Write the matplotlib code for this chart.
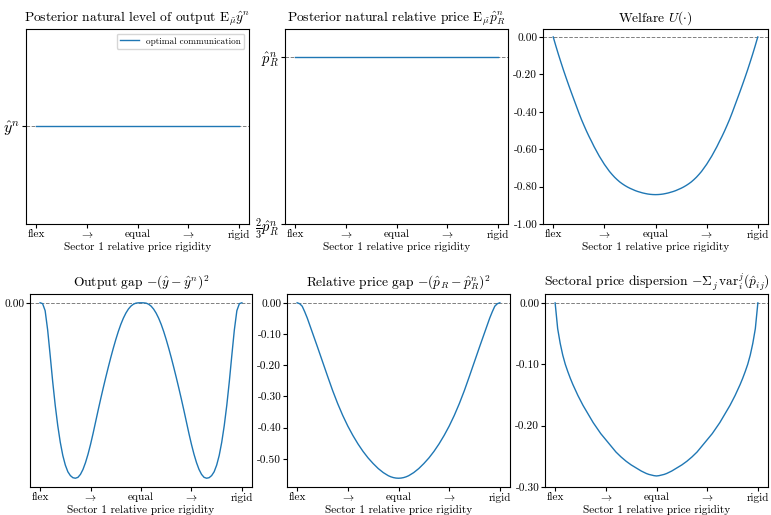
import matplotlib
matplotlib.use('Agg')
import matplotlib.pyplot as plt
import numpy as np

plt.rcParams.update({
    'font.family': 'serif',
    'font.serif': ['cmr10', 'DejaVu Serif'],
    'mathtext.fontset': 'cm',
    'axes.unicode_minus': False,
    'axes.formatter.use_mathtext': True,
})

# ---- data ----
x_grid = np.linspace(0.0, 1.0, 81)          # sector-1 relative rigidity, flex -> rigid
x_flat = [0.0, 0.25, 0.5, 0.75, 1.0]
x_tick_pos = [0.0, 0.25, 0.5, 0.75, 1.0]
x_tick_labels = ['flex', r'$\rightarrow$', 'equal', r'$\rightarrow$', 'rigid']

yn_level = 1.0
post_output = [1.0, 1.0, 1.0, 1.0, 1.0]
pRn_level = 1.0
post_relprice = [1.0, 1.0, 1.0, 1.0, 1.0]

welfare = [0.0, -0.047, -0.092, -0.135, -0.177, -0.217, -0.256, -0.294, -0.331, -0.368,
           -0.405, -0.44, -0.472, -0.503, -0.532, -0.559, -0.587, -0.612, -0.637, -0.659,
           -0.681, -0.700, -0.719, -0.735, -0.750, -0.763, -0.775, -0.785, -0.794, -0.802,
           -0.809, -0.815, -0.821, -0.826, -0.830, -0.834, -0.837, -0.8397, -0.8415, -0.8426,
           -0.843,
           -0.8426, -0.8415, -0.8397, -0.837, -0.834, -0.830, -0.826, -0.821, -0.815, -0.809,
           -0.802, -0.794, -0.785, -0.775, -0.763, -0.750, -0.735, -0.719, -0.700, -0.681,
           -0.659, -0.637, -0.612, -0.587, -0.559, -0.532, -0.503, -0.472, -0.44, -0.405,
           -0.368, -0.331, -0.294, -0.256, -0.217, -0.177, -0.135, -0.092, -0.047, 0.0]

output_gap = [0.0, -0.005, -0.045, -0.155, -0.30, -0.45, -0.585, -0.70, -0.795, -0.87,
              -0.925, -0.963, -0.985, -0.997, -1.0, -0.995, -0.978, -0.95, -0.911, -0.863,
              -0.807, -0.745, -0.679, -0.613, -0.549, -0.487, -0.427, -0.369, -0.313, -0.26,
              -0.21, -0.164, -0.123, -0.088, -0.059, -0.036, -0.019, -0.008, -0.002, -0.0003,
              0.0,
              -0.0003, -0.002, -0.008, -0.019, -0.036, -0.059, -0.088, -0.123, -0.164, -0.21,
              -0.26, -0.313, -0.369, -0.427, -0.487, -0.549, -0.613, -0.679, -0.745, -0.807,
              -0.863, -0.911, -0.95, -0.978, -0.995, -1.0, -0.997, -0.985, -0.963, -0.925,
              -0.87, -0.795, -0.70, -0.585, -0.45, -0.30, -0.155, -0.045, -0.005, 0.0]

relprice_gap = [0.0, -0.003, -0.011, -0.029, -0.049, -0.072, -0.095, -0.118, -0.141, -0.1645,
                -0.188, -0.2115, -0.235, -0.258, -0.281, -0.302, -0.323, -0.342, -0.361, -0.378,
                -0.395, -0.41, -0.425, -0.4385, -0.452, -0.464, -0.476, -0.4865, -0.497, -0.506,
                -0.515, -0.523, -0.531, -0.5375, -0.544, -0.549, -0.554, -0.5575, -0.56, -0.5615,
                -0.562,
                -0.5615, -0.56, -0.5575, -0.554, -0.549, -0.544, -0.5375, -0.531, -0.523, -0.515,
                -0.506, -0.497, -0.4865, -0.476, -0.464, -0.452, -0.4385, -0.425, -0.41, -0.395,
                -0.378, -0.361, -0.342, -0.323, -0.302, -0.281, -0.258, -0.235, -0.2115, -0.188,
                -0.1645, -0.141, -0.118, -0.095, -0.072, -0.049, -0.029, -0.011, -0.003, 0.0]

dispersion = [0.0, -0.042, -0.066, -0.085, -0.1, -0.112, -0.123, -0.133, -0.142, -0.151,
              -0.159, -0.167, -0.174, -0.181, -0.188, -0.195, -0.201, -0.207, -0.213, -0.218,
              -0.223, -0.228, -0.233, -0.238, -0.243, -0.247, -0.251, -0.2545, -0.258, -0.261,
              -0.264, -0.2665, -0.269, -0.2715, -0.274, -0.276, -0.278, -0.2795, -0.2805, -0.2815,
              -0.282,
              -0.2815, -0.2805, -0.2795, -0.278, -0.276, -0.274, -0.2715, -0.269, -0.2665, -0.264,
              -0.261, -0.258, -0.2545, -0.251, -0.247, -0.243, -0.238, -0.233, -0.228, -0.223,
              -0.218, -0.213, -0.207, -0.201, -0.195, -0.188, -0.181, -0.174, -0.167, -0.159,
              -0.151, -0.142, -0.133, -0.123, -0.112, -0.1, -0.085, -0.066, -0.042, 0.0]

for s in (welfare, output_gap, relprice_gap, dispersion):
    assert len(s) == len(x_grid)

titles = [
    r'Posterior natural level of output $\mathrm{E}_{\tilde{\mu}}\hat{y}^n$',
    r'Posterior natural relative price $\mathrm{E}_{\tilde{\mu}}\hat{p}^n_R$',
    r'Welfare $U(\cdot)$',
    r'Output gap $-(\hat{y}-\hat{y}^n)^2$',
    r'Relative price gap $-(\hat{p}_R-\hat{p}^n_R)^2$',
    r'Sectoral price dispersion $-\Sigma_j\,\mathrm{var}_i^j(\hat{p}_{ij})$',
]
xlabel = 'Sector 1 relative price rigidity'

# ---- figure ----
W, H = 771, 515
fig = plt.figure(figsize=(W / 100, H / 100), dpi=100)

def px_axes(l, t, r, b):
    return fig.add_axes([l / W, 1 - b / H, (r - l) / W, (b - t) / H])

boxes = [(26, 29, 249, 224), (285, 29, 508, 224), (543, 29, 768, 224),
         (30, 294, 252, 487), (287, 294, 510, 487), (545, 294, 768, 487)]
axes = [px_axes(*b) for b in boxes]

blue = '#1f77b4'
lw = 1.0
tick_fs = 8.1
title_fs = 9.7
dash_kw = dict(color='gray', ls='--', lw=0.7)

for ax, t in zip(axes, titles):
    ax.set_title(t, fontsize=title_fs, pad=5.5)
    ax.set_xticks(x_tick_pos)
    ax.set_xticklabels(x_tick_labels, fontsize=tick_fs)
    ax.set_xlabel(xlabel, fontsize=tick_fs, labelpad=1.5)
    ax.tick_params(axis='both', labelsize=tick_fs, length=2.7, pad=1.5)

# panel 1
ax = axes[0]
ax.axhline(yn_level, **dash_kw)
ax.plot(x_flat, post_output, color=blue, lw=lw, label='optimal communication')
ax.set_ylim(yn_level - 1.0, yn_level + 1.0)
ax.set_yticks([yn_level])
ax.set_yticklabels([r'$\hat{y}^n$'], fontsize=11.5)
ax.legend(loc='upper right', fontsize=6.6)

# panel 2
ax = axes[1]
ax.axhline(pRn_level, **dash_kw)
ax.plot(x_flat, post_relprice, color=blue, lw=lw)
ax.set_ylim(2 / 3 * pRn_level, 1.056 * pRn_level)
ax.set_yticks([2 / 3 * pRn_level, pRn_level])
ax.set_yticklabels([r'$\frac{2}{3}\hat{p}^n_R$', r'$\hat{p}^n_R$'], fontsize=10.5)

# panel 3
ax = axes[2]
ax.axhline(0, **dash_kw)
ax.plot(x_grid, welfare, color=blue, lw=lw)
ax.set_ylim(-1.0, 0.0425)
yt = [-1.0, -0.8, -0.6, -0.4, -0.2, 0.0]
ax.set_yticks(yt)
ax.set_yticklabels(['%.2f' % v for v in yt])

# panel 4
ax = axes[3]
ax.axhline(0, **dash_kw)
ax.plot(x_grid, output_gap, color=blue, lw=lw)
ax.set_yticks([0.0])
ax.set_yticklabels(['0.00'])

# panel 5
ax = axes[4]
ax.axhline(0, **dash_kw)
ax.plot(x_grid, relprice_gap, color=blue, lw=lw)
yt = [-0.5, -0.4, -0.3, -0.2, -0.1, 0.0]
ax.set_yticks(yt)
ax.set_yticklabels(['%.2f' % v for v in yt])

# panel 6
ax = axes[5]
ax.axhline(0, **dash_kw)
ax.plot(x_grid, dispersion, color=blue, lw=lw)
ax.set_ylim(-0.30, 0.0145)
yt = [-0.3, -0.2, -0.1, 0.0]
ax.set_yticks(yt)
ax.set_yticklabels(['%.2f' % v for v in yt])

fig.savefig('out.png', dpi=100)
